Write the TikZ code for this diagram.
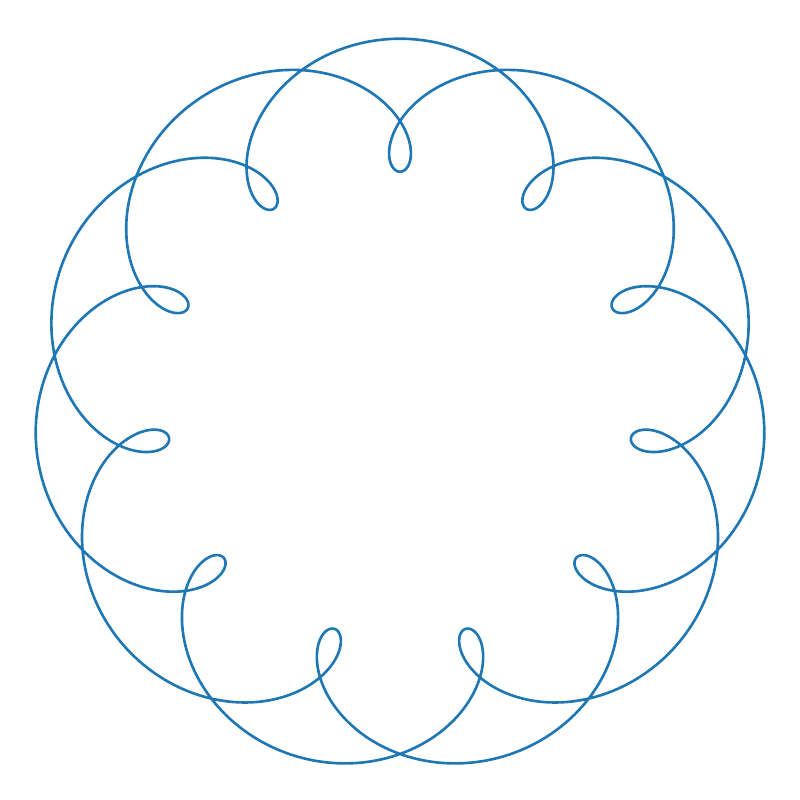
\documentclass[tikz,border=0pt]{standalone}
\usepackage{tikz}
\definecolor{mplblue}{HTML}{1F77B4}
\tikzset{
	rosette/.style={mplblue,line width=1.5pt,line join=round}
}

\begin{document}
\begin{tikzpicture}[x=0.02cm,y=0.02cm]
	\useasboundingbox (0,0) rectangle (800,800);
	% two rotating arms: big one turns twice, small one 13 times
	\draw [rosette] plot [domain=0:360, samples=1400, variable=\t]
		({400 + 299.8*sin(2*\t) - 66.5*sin(13*\t)}, {395 + 299.8*cos(2*\t) - 66.5*cos(13*\t)}) -- cycle;
\end{tikzpicture}
\end{document}
